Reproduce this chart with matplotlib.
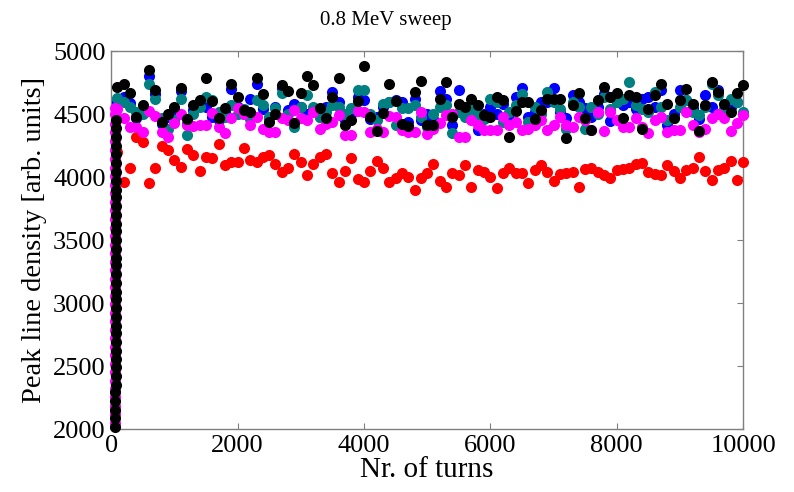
import matplotlib.pyplot as plt
import numpy as np

# turn numbers of the sampled points
turns = np.arange(100, 10001, 100)

# values, one per 100 turns
red = [4200, 3965, 4070, 4320, 4280, 3950, 4070, 4250, 4214, 4135,
       4082, 4220, 4175, 4045, 4160, 4155, 4260, 4095, 4120, 4122,
       4228, 4135, 4122, 4162, 4175, 4108, 4042, 4069, 4180, 4122,
       4016, 4101, 4160, 4185, 4029, 3963, 4048, 4148, 3984, 3958,
       4048, 4127, 4069, 3963, 3995, 4029, 4003, 3897, 3990, 4035,
       4108, 3968, 3923, 4029, 4016, 4095, 3923, 4056, 4037, 4003,
       3915, 4029, 4069, 4029, 4029, 3950, 4056, 4095, 4042, 3968,
       4021, 4029, 4037, 3923, 4063, 4069, 4037, 4016, 3990, 4056,
       4063, 4074, 4108, 4116, 4042, 4021, 4016, 4095, 4048, 3990,
       4056, 4069, 4161, 4048, 3976, 4056, 4069, 4127, 3976, 4122]

magenta = [4540, 4470, 4400, 4395, 4362, 4528, 4485, 4357, 4320, 4426,
           4500, 4413, 4403, 4415, 4413, 4510, 4399, 4347, 4466, 4545,
           4505, 4413, 4479, 4386, 4360, 4360, 4466, 4453, 4532, 4466,
           4453, 4518, 4386, 4420, 4440, 4492, 4333, 4333, 4524, 4518,
           4360, 4386, 4355, 4487, 4479, 4373, 4360, 4360, 4518, 4340,
           4380, 4430, 4492, 4505, 4320, 4320, 4452, 4413, 4373, 4373,
           4373, 4479, 4413, 4440, 4373, 4386, 4413, 4453, 4373, 4413,
           4479, 4410, 4400, 4479, 4453, 4373, 4518, 4365, 4518, 4453,
           4400, 4400, 4466, 4400, 4347, 4453, 4479, 4360, 4373, 4373,
           4518, 4413, 4360, 4386, 4466, 4505, 4466, 4365, 4426, 4492]

blue = [4600, 4640, 4590, 4470, 4520, 4800, 4660, 4420, 4480, 4540,
        4680, 4420, 4530, 4580, 4560, 4480, 4450, 4520, 4700, 4560,
        4500, 4624, 4743, 4540, 4470, 4560, 4704, 4532, 4584, 4560,
        4500, 4530, 4480, 4560, 4672, 4600, 4450, 4500, 4640, 4611,
        4460, 4480, 4560, 4598, 4610, 4598, 4440, 4620, 4452, 4500,
        4460, 4683, 4620, 4413, 4690, 4540, 4560, 4373, 4500, 4560,
        4500, 4580, 4460, 4637, 4704, 4480, 4520, 4600, 4600, 4704,
        4520, 4470, 4651, 4600, 4545, 4480, 4560, 4660, 4444, 4600,
        4571, 4600, 4540, 4620, 4637, 4560, 4690, 4413, 4500, 4690,
        4611, 4545, 4460, 4651, 4560, 4690, 4520, 4560, 4600, 4500]

teal = [4627, 4600, 4558, 4520, 4500, 4743, 4624, 4470, 4386, 4450,
        4624, 4333, 4505, 4560, 4637, 4610, 4520, 4480, 4571, 4500,
        4540, 4460, 4611, 4571, 4480, 4545, 4664, 4500, 4399, 4558,
        4651, 4560, 4480, 4520, 4571, 4560, 4500, 4545, 4690, 4690,
        4500, 4450, 4584, 4600, 4413, 4545, 4550, 4571, 4480, 4400,
        4505, 4560, 4571, 4347, 4520, 4480, 4540, 4500, 4460, 4624,
        4600, 4440, 4520, 4571, 4656, 4440, 4560, 4500, 4677, 4600,
        4540, 4386, 4600, 4560, 4386, 4558, 4500, 4640, 4540, 4600,
        4624, 4756, 4571, 4540, 4520, 4677, 4558, 4452, 4471, 4560,
        4611, 4520, 4492, 4560, 4743, 4651, 4540, 4624, 4600, 4518]

black = [4717, 4743, 4667, 4479, 4575, 4849, 4690, 4440, 4505, 4558,
         4704, 4459, 4571, 4611, 4786, 4605, 4472, 4545, 4739, 4634,
         4532, 4518, 4783, 4656, 4440, 4505, 4735, 4683, 4426, 4664,
         4804, 4735, 4548, 4466, 4637, 4783, 4413, 4452, 4603, 4884,
         4479, 4365, 4513, 4743, 4603, 4418, 4407, 4672, 4762, 4413,
         4413, 4619, 4756, 4479, 4584, 4558, 4624, 4571, 4492, 4479,
         4637, 4611, 4320, 4524, 4593, 4598, 4463, 4532, 4624, 4624,
         4619, 4312, 4571, 4664, 4466, 4373, 4611, 4717, 4637, 4664,
         4466, 4651, 4637, 4386, 4540, 4651, 4743, 4577, 4471, 4611,
         4698, 4577, 4370, 4571, 4756, 4672, 4577, 4518, 4664, 4730]

# initial rise during the first few tens of turns
ramp_black = [2020, 2085, 2150, 2220, 2290, 2350, 2420, 2490, 2555, 2620,
              2690, 2760, 2820, 2890, 2960, 3030, 3090, 3160, 3230, 3300,
              3360, 3430, 3500, 3570, 3630, 3700, 3770, 3840, 3900, 3970,
              4040, 4110, 4180, 4250, 4320, 4390, 4450]
ramp_magenta = [2050, 2120, 2185, 2255, 2320, 2385, 2455, 2520, 2590, 2655,
                2725, 2790, 2855, 2925, 2995, 3060, 3125, 3195, 3265, 3330,
                3395, 3465, 3535, 3600, 3665, 3735, 3805, 3870, 3935, 4005,
                4075, 4145, 4215, 4285, 4355, 4420, 4500, 4550]
ramp_turns_black = np.linspace(68, 74, len(ramp_black))
ramp_turns_magenta = np.linspace(58, 66, len(ramp_magenta))

plt.rcParams['font.family'] = ['Liberation Serif', 'DejaVu Serif']

fig = plt.figure(figsize=(7.94, 4.92), dpi=100)
ax = fig.add_axes([0.140, 0.128, 0.796, 0.768])

ms = 8.0
series = [(red, 'red'), (blue, 'blue'), (teal, '#008080'),
          (magenta, 'magenta'), (black, 'black')]
for vals, col in series:
    if col == 'magenta':
        ax.plot(ramp_turns_magenta, ramp_magenta, 'o', color=col, ms=ms,
                mec='none', clip_on=False)
    if col == 'black':
        ax.plot(ramp_turns_black, ramp_black, 'o', color=col, ms=ms,
                mec='none', clip_on=False)
    ax.plot(turns, vals, 'o', color=col, ms=ms, mec='none', clip_on=False)

ax.set_xlim(0, 10000)
ax.set_ylim(2000, 5000)
ax.set_xticks(np.arange(0, 10001, 2000))
ax.set_yticks(np.arange(2000, 5001, 500))

ax.tick_params(direction='in', top=True, right=True, length=4,
               color='#808080', labelsize=19, pad=4)
for sp in ax.spines.values():
    sp.set_color('#808080')
    sp.set_linewidth(1.0)
    sp.set_zorder(0)

ax.set_title('0.8 MeV sweep', fontsize=15, x=0.434, pad=19)
ax.set_xlabel('Nr. of turns', fontsize=21, labelpad=0)
ax.set_ylabel('Peak line density [arb. units]', fontsize=20.5, labelpad=4)

fig.savefig('out.png', dpi=100)
